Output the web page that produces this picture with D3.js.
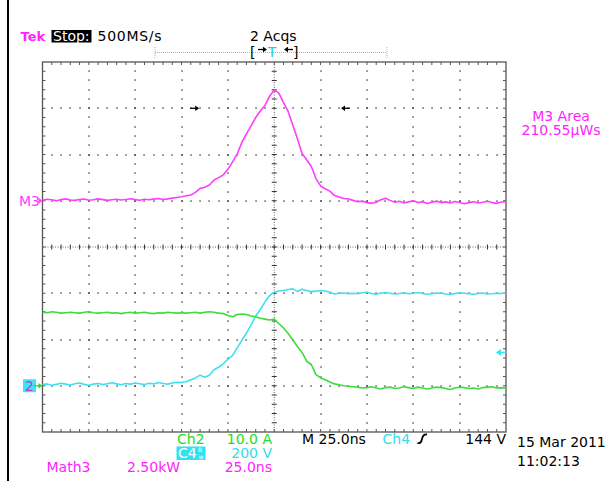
<!DOCTYPE html>
<html>
<head>
<meta charset="utf-8">
<script src="https://cdn.jsdelivr.net/npm/d3@7"></script>
<style>
  html, body { margin: 0; padding: 0; background: #fff; }
  svg { display: block; }
  text { font-family: "DejaVu Sans", sans-serif; font-size: 14px; }
</style>
</head>
<body>
<svg id="scope" width="615" height="481"></svg>
<script>
// Record: 250 ns window, one sample every 2.5 ns, trigger at 0 ns
const timeNs = d3.range(-125, 125.001, 2.5);

// Math3 = power (kW)
const m3Kw = [
  0.03,0.08,0.05,0.00,0.06,0.10,0.04,0.02,0.07,0.09,
  0.03,0.05,0.10,0.06,0.02,0.05,0.08,0.04,0.07,0.11,
  0.06,0.03,0.08,0.05,0.09,0.12,0.07,0.10,0.14,0.18,
  0.22,0.27,0.31,0.45,0.67,0.73,0.85,1.12,1.25,1.40,
  1.70,2.10,2.52,3.15,3.62,4.05,4.50,4.85,5.15,5.65,
  5.99,5.82,5.30,4.83,4.10,3.35,2.55,2.22,1.85,1.20,
  0.80,0.65,0.52,0.28,0.20,0.12,0.10,
  0.02,-0.05,-0.02,-0.10,-0.14,-0.08,0.05,0.13,0.02,-0.08,
  -0.03,-0.12,-0.06,0.00,-0.10,-0.05,-0.15,-0.08,-0.02,-0.10,
  -0.06,-0.12,-0.04,-0.09,-0.16,-0.10,-0.05,-0.12,-0.08,-0.03,
  -0.10,-0.14,-0.07,-0.06
];

// Ch4 = voltage (V)
const ch4Volts = [
  4,8,2,6,11,7,3,9,12,6,
  2,7,10,5,9,13,8,4,10,7,
  12,9,5,11,8,14,10,7,12,15,
  14,17,26,34,46,37,45,69,80,95,
  115,130,164,196,228,262,302,330,363,390,
  405,410,412,416,419,408,417,412,407,409,
  412,410,404,397,400,401,398,
  400,398,402,404,399,396,401,403,400,397,
  399,402,398,400,403,399,396,398,401,400,
  397,395,399,402,400,398,396,399,401,397,
  398,400,399,401
];

// Ch2 = current (A)
const ch2Amps = [
  15.9,15.8,16.0,15.9,15.7,15.8,15.9,15.8,15.7,15.9,
  16.0,15.8,15.7,15.8,15.9,15.7,15.8,15.6,15.8,15.9,
  15.7,15.8,15.9,15.7,15.6,15.8,15.7,15.9,15.8,15.7,
  15.8,15.7,15.8,15.9,15.7,15.9,16.0,15.9,15.7,15.6,
  15.2,14.9,15.4,15.5,15.4,15.1,14.9,14.6,14.4,14.2,
  14.4,13.4,12.5,11.3,9.9,8.5,7.2,5.3,4.6,2.4,
  1.7,1.3,0.8,0.4,0.2,0.0,-0.1,
  -0.2,-0.3,-0.5,-0.4,-0.2,-0.5,-0.7,-0.4,-0.3,-0.6,
  -0.5,-0.2,-0.4,-0.6,-0.3,-0.5,-0.7,-0.5,-0.3,-0.4,
  -0.6,-0.8,-0.5,-0.3,-0.4,-0.6,-0.5,-0.7,-0.4,-0.3,
  -0.2,-0.5,-0.4,-0.5
];

// Vertical settings: units per division and ground marker position (divisions from centre)
const channelNames = ["Ch4", "Ch2", "M3"];
const channelPerDiv = [200, 10, 2.5];
const channelOffsetDiv = [-3, -3, 1];
const channelColors = ["#3ee0f2", "#3ddc3d", "#ff3cff"];
const channelValues = [ch4Volts, ch2Amps, m3Kw];

// Area gate cursors (ns) and trigger level (V)
const gateNs = [-40.5, 36];
const triggerLevelV = 144;

const svg = d3.select("#scope");
const plotLeft = 42.5, plotRight = 506, plotTop = 62, plotBottom = 432;

const xTime = d3.scaleLinear().domain([-125, 125]).range([plotLeft, plotRight]);
const xDiv = d3.scaleLinear().domain([0, 10]).range([plotLeft, plotRight]);
const yDiv = d3.scaleLinear().domain([-4, 4]).range([plotBottom, plotTop]);

// left frame bar
svg.append("rect").attr("x", 7).attr("y", 0).attr("width", 2).attr("height", 481).attr("fill", "#000");

const grid = svg.append("g");

// graticule dots on every division line, spaced 1/5 division
const minorX = d3.range(1, 50);
const minorY = d3.range(1, 40);
const dots = [];
[1, 2, 3, 4, 6, 7, 8, 9].forEach(i => minorY.forEach(k => dots.push([xDiv(i), yDiv(-4 + k * 0.2)])));
[-3, -2, -1, 1, 2, 3].forEach(j => minorX.forEach(k => dots.push([xDiv(k * 0.2), yDiv(j)])));
grid.selectAll("rect.dot").data(dots).join("rect")
  .attr("class", "dot")
  .attr("x", d => Math.round(d[0]) - 0.6).attr("y", d => Math.round(d[1]) - 0.6)
  .attr("width", 1.3).attr("height", 1.3).attr("fill", "#222");

// centre cross with fine dots and minor ticks
grid.append("line").attr("x1", plotLeft).attr("x2", plotRight).attr("y1", yDiv(0)).attr("y2", yDiv(0))
  .attr("stroke", "#666").attr("stroke-width", 1).attr("stroke-dasharray", "1 1.5");
grid.append("line").attr("x1", xDiv(5)).attr("x2", xDiv(5)).attr("y1", plotTop).attr("y2", plotBottom)
  .attr("stroke", "#666").attr("stroke-width", 1).attr("stroke-dasharray", "1 1.5");
grid.selectAll("line.ctx").data(minorX).join("line").attr("class", "ctx")
  .attr("x1", k => xDiv(k * 0.2)).attr("x2", k => xDiv(k * 0.2))
  .attr("y1", yDiv(0) - 2.5).attr("y2", yDiv(0) + 2.5)
  .attr("stroke", "#333").attr("stroke-width", 1);
grid.selectAll("line.cty").data(minorY).join("line").attr("class", "cty")
  .attr("y1", k => yDiv(-4 + k * 0.2)).attr("y2", k => yDiv(-4 + k * 0.2))
  .attr("x1", xDiv(5) - 2.5).attr("x2", xDiv(5) + 2.5)
  .attr("stroke", "#333").attr("stroke-width", 1);

// border with inward ticks
grid.append("rect").attr("x", plotLeft).attr("y", plotTop).attr("width", plotRight - plotLeft).attr("height", plotBottom - plotTop)
  .attr("fill", "none").attr("stroke", "#555").attr("stroke-width", 1.3);
grid.selectAll("line.bt").data(minorX).join("line").attr("class", "bt")
  .attr("x1", k => xDiv(k * 0.2)).attr("x2", k => xDiv(k * 0.2))
  .attr("y1", plotTop).attr("y2", plotTop + 3).attr("stroke", "#555");
grid.selectAll("line.bb").data(minorX).join("line").attr("class", "bb")
  .attr("x1", k => xDiv(k * 0.2)).attr("x2", k => xDiv(k * 0.2))
  .attr("y1", plotBottom).attr("y2", plotBottom - 3).attr("stroke", "#555");
grid.selectAll("line.bl").data(minorY).join("line").attr("class", "bl")
  .attr("y1", k => yDiv(-4 + k * 0.2)).attr("y2", k => yDiv(-4 + k * 0.2))
  .attr("x1", plotLeft).attr("x2", plotLeft + 3).attr("stroke", "#555");
grid.selectAll("line.br").data(minorY).join("line").attr("class", "br")
  .attr("y1", k => yDiv(-4 + k * 0.2)).attr("y2", k => yDiv(-4 + k * 0.2))
  .attr("x1", plotRight).attr("x2", plotRight - 3).attr("stroke", "#555");

// waveforms
const traces = svg.append("g");
channelValues.forEach((vals, c) => {
  const line = d3.line()
    .x((d, i) => xTime(timeNs[i]))
    .y(d => yDiv(d / channelPerDiv[c] + channelOffsetDiv[c]));
  traces.append("path").datum(vals)
    .attr("d", line).attr("fill", "none")
    .attr("stroke", channelColors[c]).attr("stroke-width", 1.6)
    .attr("stroke-linejoin", "round");
});

// small arrow: dir = +1 points right, -1 points left
function arrow(g, tipX, y, dir, color) {
  g.append("line").attr("x1", tipX - dir * 9).attr("x2", tipX - dir * 3).attr("y1", y).attr("y2", y)
    .attr("stroke", color).attr("stroke-width", 1.3);
  g.append("path").attr("d", `M${tipX},${y} L${tipX - dir * 4},${y - 2.8} L${tipX - dir * 4},${y + 2.8} Z`)
    .attr("fill", color);
}
const marks = svg.append("g");
arrow(marks, xTime(gateNs[0]), yDiv(3), 1, "#000");
arrow(marks, xTime(gateNs[1]), yDiv(3), -1, "#000");

// ground markers
const yM3 = yDiv(channelOffsetDiv[2]);
marks.append("text").attr("x", 19).attr("y", yM3 + 5.5).attr("fill", channelColors[2]).text("M3");
marks.append("path").attr("d", `M${plotLeft},${yM3} L${plotLeft - 4},${yM3 - 3} L${plotLeft - 4},${yM3 + 3} Z`).attr("fill", channelColors[2]);

const yCh = yDiv(channelOffsetDiv[1]);
marks.append("rect").attr("x", 23).attr("y", yCh - 6.5).attr("width", 13).attr("height", 13).attr("fill", "#33e8f8");
marks.append("text").attr("x", 25).attr("y", yCh + 5).attr("fill", "#c040c8").text("2");
arrow(marks, plotLeft, yCh, 1, "#2fd02f");

// trigger level marker on the right edge
const yTrig = yDiv(triggerLevelV / channelPerDiv[0] + channelOffsetDiv[0]);
marks.append("path").attr("d", `M${plotRight - 10},${yTrig} L${plotRight - 5},${yTrig - 3.5} L${plotRight - 5},${yTrig + 3.5} Z`).attr("fill", "#33e8f8");
marks.append("line").attr("x1", plotRight - 6).attr("x2", plotRight).attr("y1", yTrig).attr("y2", yTrig).attr("stroke", "#33e8f8").attr("stroke-width", 1.5);

// header
const head = svg.append("g");
head.append("text").attr("x", 20.5).attr("y", 41).attr("fill", "#ff22ff").attr("font-weight", "bold").style("font-size", "13px").text("Tek");
head.append("rect").attr("x", 51.5).attr("y", 30).attr("width", 40).attr("height", 12.5).attr("fill", "#000");
head.append("text").attr("x", 53).attr("y", 41).attr("fill", "#fff").text("Stop:");
head.append("text").attr("x", 97.5).attr("y", 41).attr("fill", "#000").attr("textLength", 64).text("500MS/s");
head.append("text").attr("x", 250).attr("y", 41).attr("fill", "#000").text("2 Acqs");

// record view bar
head.append("line").attr("x1", 155).attr("x2", 387).attr("y1", 52.5).attr("y2", 52.5)
  .attr("stroke", "#3ee0f2").attr("stroke-width", 1).attr("stroke-dasharray", "1 1");
[155, 387].forEach(x => head.append("line").attr("x1", x).attr("x2", x).attr("y1", 47).attr("y2", 58)
  .attr("stroke", "#3ee0f2").attr("stroke-dasharray", "1 1"));
head.append("text").attr("x", 250).attr("y", 57).attr("fill", "#000").text("[");
head.append("text").attr("x", 293).attr("y", 57).attr("fill", "#000").text("]");
arrow(head, 267, 49.5, 1, "#000");
arrow(head, 284, 49.5, -1, "#000");
head.append("text").attr("x", 272).attr("y", 57).attr("text-anchor", "middle").attr("fill", "#22ccee").text("T");

// area readout
head.append("text").attr("x", 561).attr("y", 120.5).attr("text-anchor", "middle").attr("fill", "#ff22ff").text("M3 Area");
head.append("text").attr("x", 561).attr("y", 134.5).attr("text-anchor", "middle").attr("fill", "#ff22ff").text("210.55µWs");

// status lines
const foot = svg.append("g");
foot.append("text").attr("x", 177).attr("y", 444).attr("fill", "#22dd22").text("Ch2");
foot.append("text").attr("x", 272).attr("y", 444).attr("text-anchor", "end").attr("fill", "#22dd22").text("10.0 A");
foot.append("text").attr("x", 302).attr("y", 444).attr("fill", "#000").text("M 25.0ns");
foot.append("text").attr("x", 382.5).attr("y", 444).attr("fill", "#33ddee").text("Ch4");
foot.append("path").attr("d", "M417.5,443 Q421,444 422,439 Q423,434 427,434.5").attr("fill", "none").attr("stroke", "#000").attr("stroke-width", 1.8);
foot.append("text").attr("x", 506).attr("y", 444).attr("text-anchor", "end").attr("fill", "#000").text("144 V");
foot.append("text").attr("x", 517).attr("y", 447).attr("fill", "#000").text("15 Mar 2011");
foot.append("rect").attr("x", 176.5).attr("y", 446.5).attr("width", 29).attr("height", 13.5).attr("fill", "#33e0f0");
foot.append("text").attr("x", 178).attr("y", 458).attr("fill", "#fff").text("C4");
foot.append("text").attr("x", 198).attr("y", 452).attr("fill", "#fff").style("font-size", "6px").text("B");
foot.append("text").attr("x", 198.5).attr("y", 458.5).attr("fill", "#fff").style("font-size", "6px").text("w");
foot.append("text").attr("x", 272).attr("y", 458).attr("text-anchor", "end").attr("fill", "#33ddee").text("200 V");
foot.append("text").attr("x", 517).attr("y", 466).attr("fill", "#000").text("11:02:13");
foot.append("text").attr("x", 46.5).attr("y", 472).attr("fill", "#ff22ff").text("Math3");
foot.append("text").attr("x", 127).attr("y", 472).attr("fill", "#ff22ff").text("2.50kW");
foot.append("text").attr("x", 272).attr("y", 472).attr("text-anchor", "end").attr("fill", "#ff22ff").text("25.0ns");
</script>
</body>
</html>
